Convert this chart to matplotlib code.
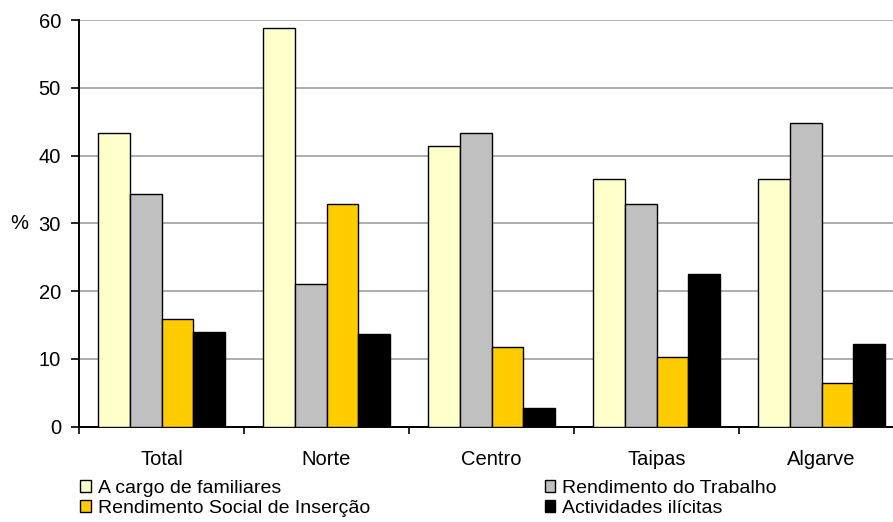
import numpy as np
import matplotlib
matplotlib.use('Agg')
import matplotlib.pyplot as plt
from matplotlib.patches import Patch

plt.rcParams['font.family'] = ['Liberation Sans', 'DejaVu Sans']

# Data
regions = ['Total', 'Norte', 'Centro', 'Taipas', 'Algarve']
a_cargo = [43.4, 58.8, 41.4, 36.6, 36.6]
trabalho = [34.3, 21.0, 43.4, 32.8, 44.8]
rsi = [15.9, 32.8, 11.8, 10.3, 6.5]
ilicitas = [14.0, 13.7, 2.8, 22.5, 12.2]

series = [
    ('A cargo de familiares', a_cargo, '#FFFFCC'),
    ('Rendimento do Trabalho', trabalho, '#C0C0C0'),
    ('Rendimento Social de Inserção', rsi, '#FFCC00'),
    ('Actividades ilícitas', ilicitas, '#000000'),
]

fig = plt.figure(figsize=(8.93, 5.22), dpi=100)
ax = fig.add_axes([79 / 893, 1 - 426.7 / 522, 825 / 893, 406.7 / 522])

x = np.arange(len(regions))
w = 0.192
for i, (name, vals, col) in enumerate(series):
    ax.bar(x + (i - 1.5) * w, vals, width=w, color=col,
           edgecolor='black', linewidth=1.0, zorder=3)

ax.set_xlim(-0.5, len(regions) - 0.5)
ax.set_ylim(0, 60)
ax.set_yticks(range(0, 61, 10))
ax.yaxis.grid(True, color='#a0a0a0', linewidth=1.2, zorder=0)

# category boundaries get tick marks, labels sit at the centres
ax.set_xticks(np.arange(-0.5, len(regions), 1.0))
ax.set_xticklabels([])
ax.set_xticks(x, minor=True)
ax.set_xticklabels(regions, minor=True)
ax.tick_params(axis='x', which='major', direction='out', length=5, width=1.2)
ax.tick_params(axis='x', which='minor', length=0, pad=17, labelsize=14.5)
ax.tick_params(axis='y', direction='out', length=6, width=1.2, pad=7, labelsize=14.5)

for s in ['top', 'right']:
    ax.spines[s].set_visible(False)
for s in ['left', 'bottom']:
    ax.spines[s].set_linewidth(1.4)

ax.set_ylabel('%', rotation=0, fontsize=14.5, ha='right', va='center')
ax.yaxis.set_label_coords(-0.061, 0.5)

# legend: column-wise order
order = [0, 2, 1, 3]
handles = [Patch(facecolor=series[k][2], edgecolor='black', linewidth=1.0,
                 label=series[k][0]) for k in order]
fig.legend(handles=handles, ncol=2, loc='upper left',
           bbox_to_anchor=(80 / 893, 1 - 480 / 522), frameon=False,
           fontsize=14, handlelength=0.55, handleheight=0.55,
           handletextpad=0.35, labelspacing=0.15, columnspacing=9.0,
           borderpad=0, borderaxespad=0)

fig.savefig('out.png', dpi=100)
